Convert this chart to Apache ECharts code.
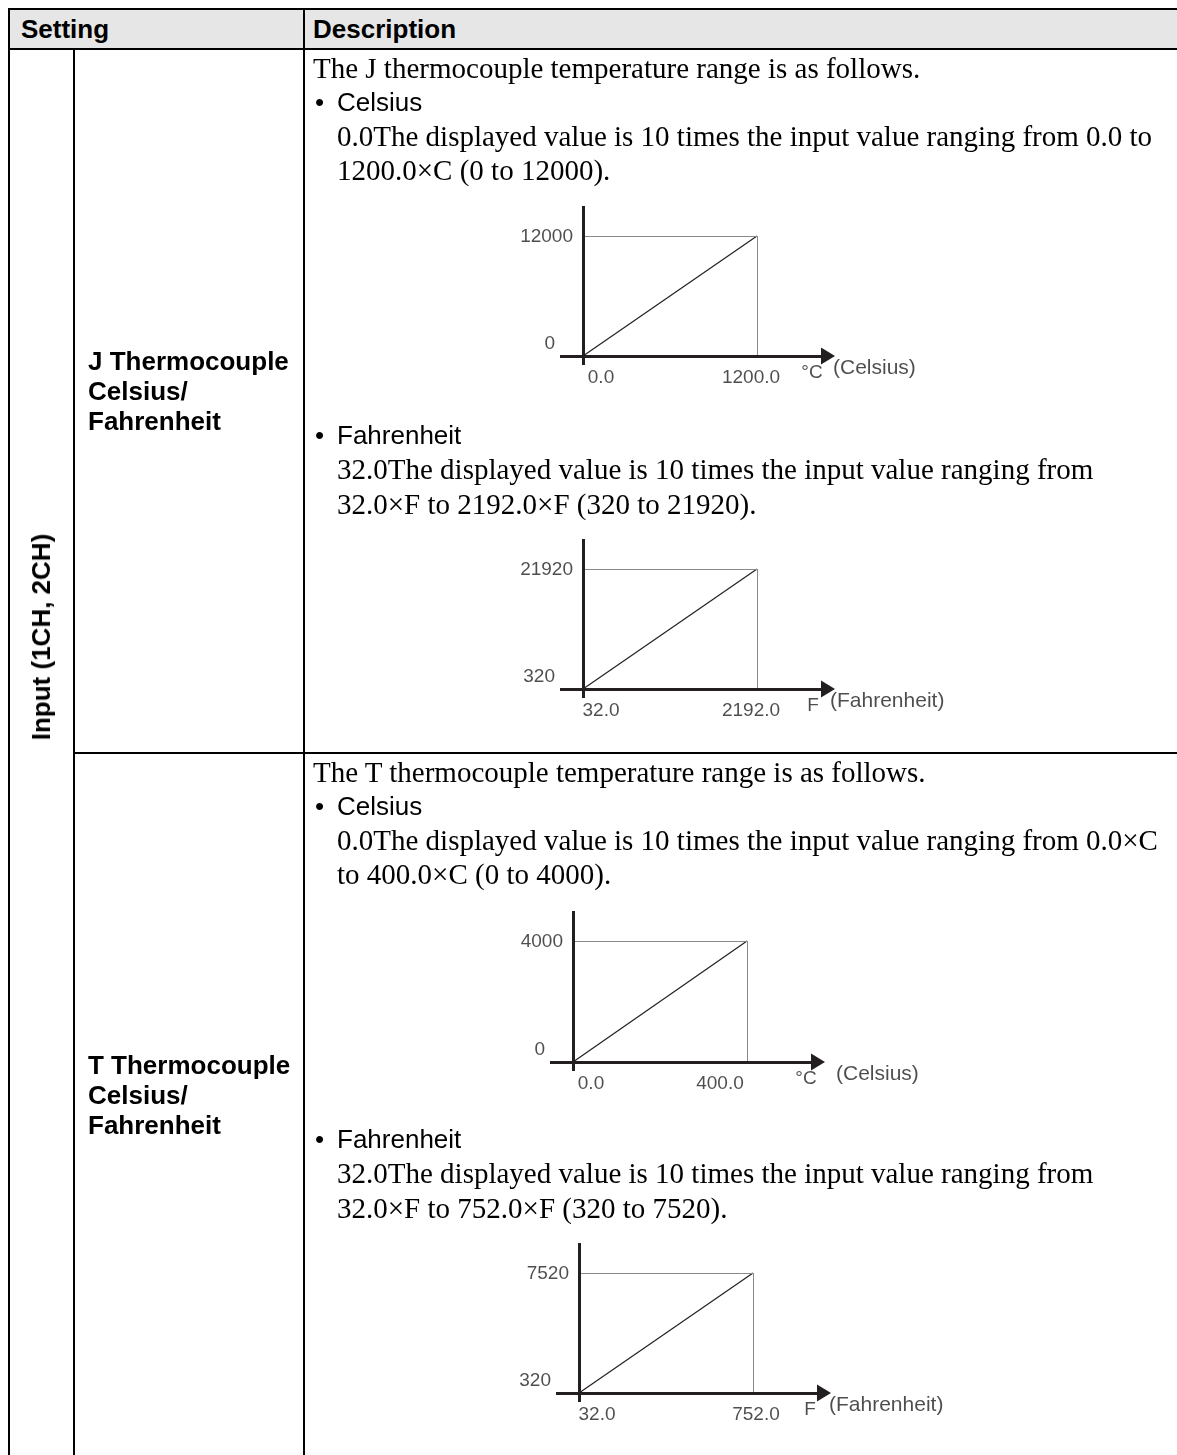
<!DOCTYPE html>
<html>
<head>
<meta charset="utf-8">
<script src="https://cdn.jsdelivr.net/npm/echarts@6/dist/echarts.min.js"></script>
<style>
html, body { margin: 0; padding: 0; background: #fff; }
#page { position: relative; width: 1177px; height: 1455px; overflow: hidden; }
#chart { position: absolute; left: 0; top: 0; width: 1177px; height: 1455px; }
.ln { position: absolute; background: #000; }
.t { position: absolute; white-space: nowrap; line-height: 1; transform: translateY(-50%); color: #000; }
.serif { font-family: 'Liberation Serif', 'Times New Roman', serif; font-size: 29px; }
.sans { font-family: 'Liberation Sans', Arial, sans-serif; font-size: 26px; }
.bold { font-weight: bold; }
.vert { position: absolute; left: 41px; top: 637px; white-space: nowrap; line-height: 1;
        transform: translate(-50%, -50%) rotate(-90deg); }
</style>
</head>
<body>
<div id="page">
  <div id="chart"></div>

  <!-- table frame -->
  <div class="ln" style="left:10px;top:10px;width:1167px;height:38px;background:#e6e6e6"></div>
  <div class="ln" style="left:8px;top:8px;width:1169px;height:2px"></div>
  <div class="ln" style="left:8px;top:48px;width:1169px;height:2px"></div>
  <div class="ln" style="left:8px;top:8px;width:2px;height:1447px"></div>
  <div class="ln" style="left:73px;top:48px;width:2px;height:1407px"></div>
  <div class="ln" style="left:303px;top:8px;width:2px;height:1447px"></div>
  <div class="ln" style="left:73px;top:752px;width:1104px;height:2px"></div>

  <!-- header -->
  <div class="t sans bold" style="left:21px;top:29px">Setting</div>
  <div class="t sans bold" style="left:313px;top:29px">Description</div>

  <div class="vert sans bold">Input (1CH, 2CH)</div>

  <!-- J row -->
  <div class="t sans bold" style="left:88px;top:361px">J Thermocouple</div>
  <div class="t sans bold" style="left:88px;top:391px">Celsius/</div>
  <div class="t sans bold" style="left:88px;top:421px">Fahrenheit</div>

  <div class="t serif" style="left:313px;top:68px">The J thermocouple temperature range is as follows.</div>
  <div class="t sans" style="left:315px;top:102px">•</div>
  <div class="t sans" style="left:337px;top:102px">Celsius</div>
  <div class="t serif" style="left:337px;top:136px">0.0The displayed value is 10 times the input value ranging from 0.0 to</div>
  <div class="t serif" style="left:337px;top:170px">1200.0×C (0 to 12000).</div>
  <div class="t sans" style="left:315px;top:435px">•</div>
  <div class="t sans" style="left:337px;top:435px">Fahrenheit</div>
  <div class="t serif" style="left:337px;top:469px">32.0The displayed value is 10 times the input value ranging from</div>
  <div class="t serif" style="left:337px;top:504px">32.0×F to 2192.0×F (320 to 21920).</div>

  <!-- T row -->
  <div class="t sans bold" style="left:88px;top:1065px">T Thermocouple</div>
  <div class="t sans bold" style="left:88px;top:1095px">Celsius/</div>
  <div class="t sans bold" style="left:88px;top:1125px">Fahrenheit</div>

  <div class="t serif" style="left:313px;top:772px">The T thermocouple temperature range is as follows.</div>
  <div class="t sans" style="left:315px;top:806px">•</div>
  <div class="t sans" style="left:337px;top:806px">Celsius</div>
  <div class="t serif" style="left:337px;top:840px">0.0The displayed value is 10 times the input value ranging from 0.0×C</div>
  <div class="t serif" style="left:337px;top:874px">to 400.0×C (0 to 4000).</div>
  <div class="t sans" style="left:315px;top:1139px">•</div>
  <div class="t sans" style="left:337px;top:1139px">Fahrenheit</div>
  <div class="t serif" style="left:337px;top:1173px">32.0The displayed value is 10 times the input value ranging from</div>
  <div class="t serif" style="left:337px;top:1208px">32.0×F to 752.0×F (320 to 7520).</div>
</div>

<script>
// input range (temperature) and displayed value range for each small chart
var jCelsiusInput = [0.0, 1200.0];
var jCelsiusOutput = [0, 12000];
var jFahrenheitInput = [32.0, 2192.0];
var jFahrenheitOutput = [320, 21920];
var tCelsiusInput = [0.0, 400.0];
var tCelsiusOutput = [0, 4000];
var tFahrenheitInput = [32.0, 752.0];
var tFahrenheitOutput = [320, 7520];
var unitSymbols = ['°C', 'F', '°C', 'F'];
var unitNames = ['(Celsius)', '(Fahrenheit)', '(Celsius)', '(Fahrenheit)'];

var inputs = [jCelsiusInput, jFahrenheitInput, tCelsiusInput, tFahrenheitInput];
var outputs = [jCelsiusOutput, jFahrenheitOutput, tCelsiusOutput, tFahrenheitOutput];

// where each chart sits on the page (pixel box of the min..max corner)
var boxes = [
    {x0: 583, x1: 757, y0: 356, y1: 236, endDx: -6, unitDx: -16, nameDx: 5},
    {x0: 583, x1: 757, y0: 689, y1: 569, endDx: -6, unitDx: -15, nameDx: 2},
    {x0: 573, x1: 747, y0: 1062, y1: 941, endDx: -27, unitDx: -12, nameDx: 18},
    {x0: 579, x1: 753, y0: 1393, y1: 1273, endDx: 3, unitDx: -14, nameDx: 5}
];
var padLeft = 23, padRight = 71, padTop = 30, padBottom = 9;
var ink = '#231f20';
var font = "'Liberation Sans', Arial, sans-serif";

var grids = [], xAxes = [], yAxes = [], series = [];

boxes.forEach(function (b, i) {
    var xIn = inputs[i], yOut = outputs[i];
    var kx = (xIn[1] - xIn[0]) / (b.x1 - b.x0);
    var ky = (yOut[1] - yOut[0]) / (b.y0 - b.y1);
    var xMin = xIn[0] - padLeft * kx, xMax = xIn[1] + padRight * kx;
    var yMin = yOut[0] - padBottom * ky, yMax = yOut[1] + padTop * ky;

    grids.push({
        left: b.x0 - padLeft, top: b.y1 - padTop,
        width: b.x1 - b.x0 + padLeft + padRight,
        height: b.y0 - b.y1 + padTop + padBottom
    });
    xAxes.push({type: 'value', gridIndex: i, min: xMin, max: xMax, show: false});
    yAxes.push({type: 'value', gridIndex: i, min: yMin, max: yMax, show: false});

    var guide = {color: '#8a8a8a', width: 1, type: 'solid'};
    var axisStyle = {color: ink, width: 3, type: 'solid'};

    series.push({
        type: 'line', xAxisIndex: i, yAxisIndex: i,
        data: [[xIn[0], yOut[0]], [xIn[1], yOut[1]]],
        symbol: 'none', silent: true, animation: false,
        lineStyle: {color: ink, width: 1.2},
        markLine: {
            silent: true, animation: false,
            symbol: ['none', 'none'],
            label: {show: false},
            data: [
                [{coord: [xIn[0], yOut[1]], lineStyle: guide}, {coord: [xIn[1], yOut[1]]}],
                [{coord: [xIn[1], yOut[1]], lineStyle: guide}, {coord: [xIn[1], yOut[0]]}],
                [{coord: [xMin, yOut[0]], lineStyle: axisStyle},
                 {coord: [xMax, yOut[0]], symbol: 'triangle', symbolSize: [17, 14]}],
                [{coord: [xIn[0], yMin], lineStyle: axisStyle}, {coord: [xIn[0], yMax]}]
            ]
        }
    });

    series.push({
        type: 'scatter', xAxisIndex: i, yAxisIndex: i,
        symbolSize: 1, silent: true, animation: false,
        itemStyle: {color: 'transparent'},
        label: {show: true, position: 'inside', color: ink, fontSize: 19, fontFamily: font},
        data: [
            {value: [xIn[0], yOut[1]], label: {formatter: String(yOut[1]), align: 'right', offset: [-10, 1]}},
            {value: [xIn[0], yOut[0]], label: {formatter: String(yOut[0]), align: 'right', offset: [-28, -12]}},
            {value: [xIn[0], yOut[0]], label: {formatter: xIn[0].toFixed(1), offset: [18, 22]}},
            {value: [xIn[1], yOut[0]], label: {formatter: xIn[1].toFixed(1), offset: [b.endDx, 22]}},
            {value: [xMax, yOut[0]], label: {formatter: unitSymbols[i], offset: [b.unitDx, 17]}},
            {value: [xMax, yOut[0]], label: {formatter: unitNames[i], align: 'left', fontSize: 21, offset: [b.nameDx, 12]}}
        ]
    });
});

var chart = echarts.init(document.getElementById('chart'));
chart.setOption({
    animation: false,
    grid: grids,
    xAxis: xAxes,
    yAxis: yAxes,
    series: series
});
</script>
</body>
</html>
